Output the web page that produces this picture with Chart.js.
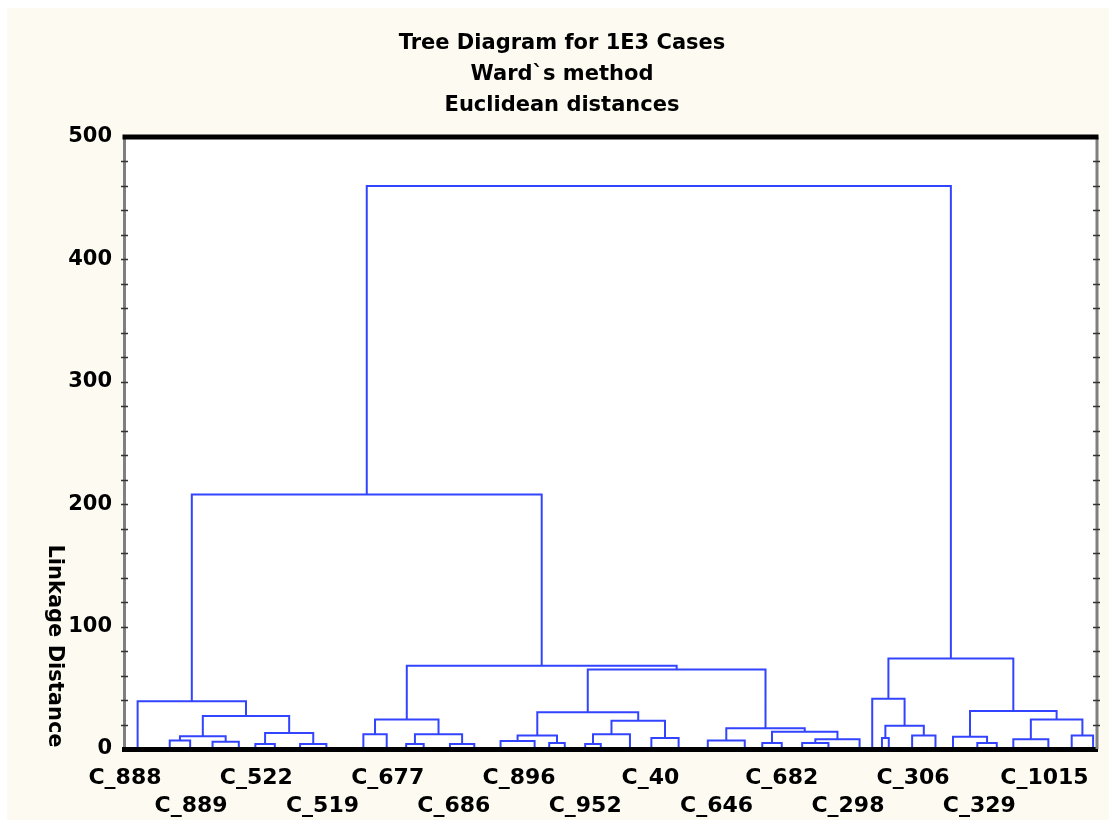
<!DOCTYPE html>
<html>
<head>
<meta charset="utf-8">
<script src="https://cdn.jsdelivr.net/npm/chart.js@4.4.1/dist/chart.umd.min.js"></script>
<style>
  html, body { margin: 0; padding: 0; background: #fff; }
  #wrap { width: 1109px; height: 825px; }
</style>
</head>
<body>
<div id="wrap"><canvas id="tree" width="1109" height="825"></canvas></div>
<script>
// tree order (case rank, 0..1000) of each leaf cluster
const leafCase = [14, 47, 68, 91, 118, 135, 155, 181, 208, 246, 270, 290, 308, 335, 360,
  387, 422, 437, 453, 474, 490, 520, 542, 570, 600, 638, 656, 676, 697, 724, 756,
  769, 779, 786, 810, 834, 852, 877, 897, 914, 950, 974, 996];

// linkage: ids < leafCase.length are leaves, id leafCase.length + k is merge k
const mergeA = [1, 3, 43, 5, 7, 46, 45, 0, 9, 11, 13, 52, 51, 15, 17, 56, 19, 59, 22, 60, 58,
  24, 26, 28, 66, 65, 64, 63, 55, 50, 32, 34, 73, 31, 37, 36, 39, 41, 79, 78, 76, 72];
const mergeB = [2, 4, 44, 6, 8, 47, 48, 49, 10, 12, 14, 53, 54, 16, 18, 57, 20, 21, 23, 61, 62,
  25, 27, 29, 30, 67, 68, 69, 70, 71, 33, 35, 74, 75, 38, 77, 40, 42, 80, 81, 82, 83];
const mergeDist = [7, 6, 10.5, 4, 4, 13, 27, 39, 12, 4, 4, 12, 24, 6.5, 5, 11, 4, 12, 9, 23, 30,
  7, 5, 5, 8, 14, 17, 65, 68, 208, 9, 11, 19, 41, 5, 10, 8, 11, 24, 31, 74, 460];

// labelled cases along the bottom
const caseLabels = ['C_888', 'C_889', 'C_522', 'C_519', 'C_677', 'C_686', 'C_896', 'C_952',
  'C_40', 'C_646', 'C_682', 'C_298', 'C_306', 'C_329', 'C_1015'];
const labelCase = [1, 69, 136, 204, 271, 339, 406, 474, 541, 609, 676, 744, 811, 879, 946];

const titleLines = ['Tree Diagram for 1E3 Cases', 'Ward`s method', 'Euclidean distances'];
const yTitle = 'Linkage Distance';

const cream = '#fdfaf1';
const lineBlue = 'rgb(50, 68, 255)';
const tickFont = { family: '"DejaVu Sans"', size: 21, weight: 'bold', lineHeight: 1.33 };
const labelFont = { family: '"DejaVu Sans"', size: 22, weight: 'bold', lineHeight: 1.27 };

// build the bracket polylines from the linkage
const posX = leafCase.slice();
const posY = leafCase.map(() => 0);
const pts = [];
mergeA.forEach((a, k) => {
  const b = mergeB[k], h = mergeDist[k];
  pts.push({ x: posX[a], y: posY[a] }, { x: posX[a], y: h }, { x: posX[b], y: h }, { x: posX[b], y: posY[b] });
  pts.push({ x: posX[b], y: null });
  posX.push((posX[a] + posX[b]) / 2);
  posY.push(h);
});

const frame = {
  id: 'frame',
  beforeDraw(chart) {
    const { ctx, chartArea: a } = chart;
    ctx.save();
    ctx.fillStyle = '#fff';
    ctx.fillRect(0, 0, chart.width, chart.height);
    ctx.fillStyle = cream;
    ctx.fillRect(7, 8, chart.width - 7, chart.height - 13);
    ctx.fillStyle = '#fff';
    ctx.fillRect(a.left, a.top, a.right - a.left, a.bottom - a.top);
    ctx.restore();
  },
  afterDraw(chart) {
    const { ctx, chartArea: a, scales: { y } } = chart;
    ctx.save();
    ctx.strokeStyle = '#7f7f7f';
    ctx.lineWidth = 3;
    ctx.beginPath();
    ctx.moveTo(a.right, a.top);
    ctx.lineTo(a.right, a.bottom);
    ctx.stroke();

    // minor ticks every 20 on both side borders
    ctx.strokeStyle = '#333';
    ctx.lineWidth = 1.5;
    for (let v = 20; v < 500; v += 20) {
      const py = Math.round(y.getPixelForValue(v)) + 0.5;
      ctx.beginPath();
      ctx.moveTo(a.left - 3, py); ctx.lineTo(a.left + 4, py);
      ctx.moveTo(a.right - 4, py); ctx.lineTo(a.right + 3, py);
      ctx.stroke();
    }

    ctx.strokeStyle = '#000';
    ctx.lineWidth = 5;
    ctx.beginPath();
    ctx.moveTo(a.left - 1.5, a.top);
    ctx.lineTo(a.right + 1.5, a.top);
    ctx.stroke();

    ctx.fillStyle = '#000';
    ctx.font = 'bold 21px "DejaVu Sans"';
    ctx.textAlign = 'center';
    ctx.textBaseline = 'alphabetic';
    titleLines.forEach((t, i) => ctx.fillText(t, 562, 49 + i * 31));

    ctx.translate(54, 646);
    ctx.rotate(Math.PI / 2);
    ctx.textBaseline = 'middle';
    ctx.fillText(yTitle, 0, 0);
    ctx.restore();
  }
};

new Chart(document.getElementById('tree'), {
  type: 'scatter',
  data: {
    datasets: [{
      data: pts,
      showLine: true,
      borderColor: lineBlue,
      borderWidth: 2,
      pointRadius: 0,
      spanGaps: false,
      tension: 0
    }]
  },
  options: {
    responsive: false,
    animation: false,
    layout: { padding: { top: 137, right: 12, left: 0, bottom: 0 } },
    plugins: {
      legend: { display: false },
      tooltip: { enabled: false },
      title: { display: false }
    },
    scales: {
      x: {
        type: 'linear',
        min: 0,
        max: 1000,
        afterFit: s => { s.height = 76; },
        afterBuildTicks: s => { s.ticks = labelCase.map(v => ({ value: v })); },
        grid: { display: false, drawTicks: false },
        border: { display: true, color: '#000', width: 5, z: 1 },
        ticks: {
          autoSkip: false,
          maxRotation: 0,
          minRotation: 0,
          padding: 15,
          color: '#000',
          font: labelFont,
          callback: (v, i) => (i % 2 ? ['', caseLabels[i]] : caseLabels[i])
        }
      },
      y: {
        min: 0,
        max: 500,
        afterFit: s => { s.width = 124; },
        grid: { display: false, drawTicks: false },
        border: { display: true, color: '#7f7f7f', width: 3 },
        ticks: { stepSize: 100, padding: 12, color: '#000', font: tickFont }
      }
    }
  },
  plugins: [frame]
});
</script>
</body>
</html>
